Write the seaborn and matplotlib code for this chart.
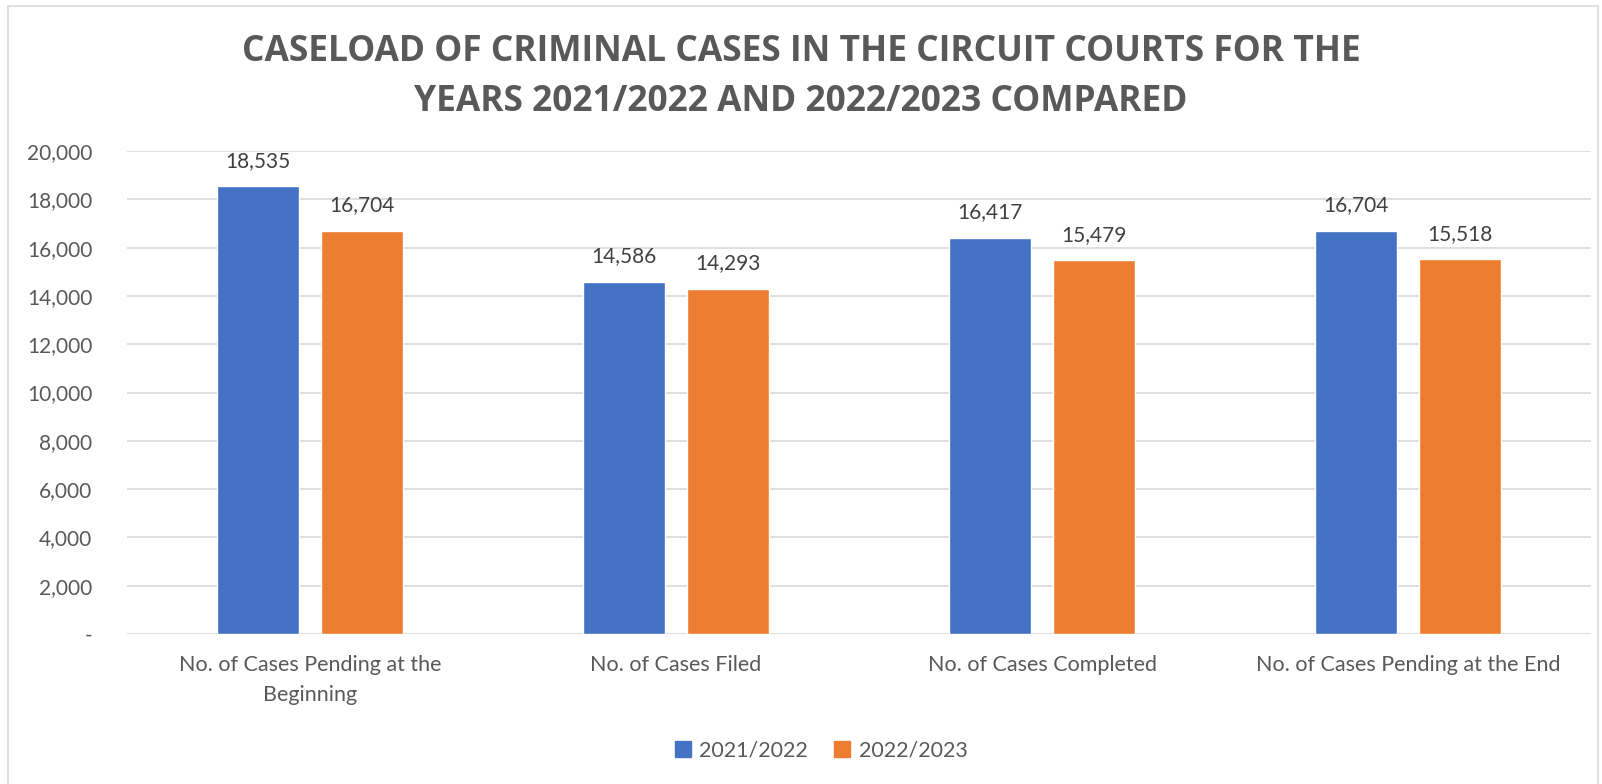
import matplotlib
matplotlib.use("Agg")
import matplotlib.pyplot as plt
import seaborn as sns
import pandas as pd
from matplotlib.patches import Rectangle
from matplotlib.ticker import FuncFormatter

categories = ["No. of Cases Pending at the\nBeginning", "No. of Cases Filed",
              "No. of Cases Completed", "No. of Cases Pending at the End"]
series_names = ["2021/2022", "2022/2023"]
values_2021_2022 = [18535, 14586, 16417, 16704]
values_2022_2023 = [16704, 14293, 15479, 15518]
title = "CASELOAD OF CRIMINAL CASES IN THE CIRCUIT COURTS FOR THE\nYEARS 2021/2022 AND 2022/2023 COMPARED"
colors = ["#4472C4", "#ED7D31"]

df = pd.DataFrame({
    "category": categories * 2,
    "series": [series_names[0]] * 4 + [series_names[1]] * 4,
    "value": values_2021_2022 + values_2022_2023,
})

sns.set_theme(style="white")
plt.rcParams['font.family'] = ['Lato', 'DejaVu Sans']
text_color = "#595959"

fig = plt.figure(figsize=(16.02, 7.84), dpi=100)
ax = fig.add_axes([127 / 1602, 1 - 634 / 784, 1464 / 1602, (634 - 151) / 784])

sns.barplot(data=df, x="category", y="value", hue="series", palette=colors,
            order=categories, hue_order=series_names, width=0.571, gap=0.215,
            ax=ax, saturation=1, legend=True, zorder=3)

for c in ax.containers:
    ax.bar_label(c, labels=[f"{int(v.get_height()):,}" for v in c], padding=11,
                 fontsize=15, color="#404040")

ax.set_ylim(0, 20000)
ax.set_yticks(range(0, 20001, 2000))
ax.yaxis.set_major_formatter(FuncFormatter(lambda v, p: "-" if v == 0 else f"{int(v):,}"))
ax.grid(axis="y", color="#d9d9d9", linewidth=1.2, zorder=0)
ax.set_axisbelow(True)
for s in ax.spines.values():
    s.set_visible(False)
ax.tick_params(axis="both", length=0, labelsize=15, labelcolor=text_color)
ax.tick_params(axis="y", pad=25)
ax.tick_params(axis="x", pad=15)
for t in ax.get_xticklabels():
    t.set_linespacing(1.65)
    t.set_fontsize(15.5)
ax.set_xlabel("")
ax.set_ylabel("")

ax.legend_.remove()
handles = [Rectangle((0, 0), 1, 1, color=col) for col in colors]
leg = fig.legend(handles, series_names, loc="center", bbox_to_anchor=(821 / 1602, 0.043),
                 ncol=2, frameon=False, fontsize=15.5, handlelength=0.75, handleheight=0.75,
                 columnspacing=1.2, handletextpad=0.4)
for t in leg.get_texts():
    t.set_color(text_color)

fig.text(0.5, 1 - 77 / 784, title, ha="center", va="center", fontsize=25.5,
         fontweight="bold", color=text_color, linespacing=1.5,
         family=["Open Sans", "DejaVu Sans"])

fig.patches.append(Rectangle((8 / 1602, -0.01), 1590 / 1602, 1.0 - 6 / 784 + 0.01,
                             transform=fig.transFigure, fill=False,
                             edgecolor="#d9d9d9", linewidth=1.2))

fig.savefig("out.png", dpi=100)
